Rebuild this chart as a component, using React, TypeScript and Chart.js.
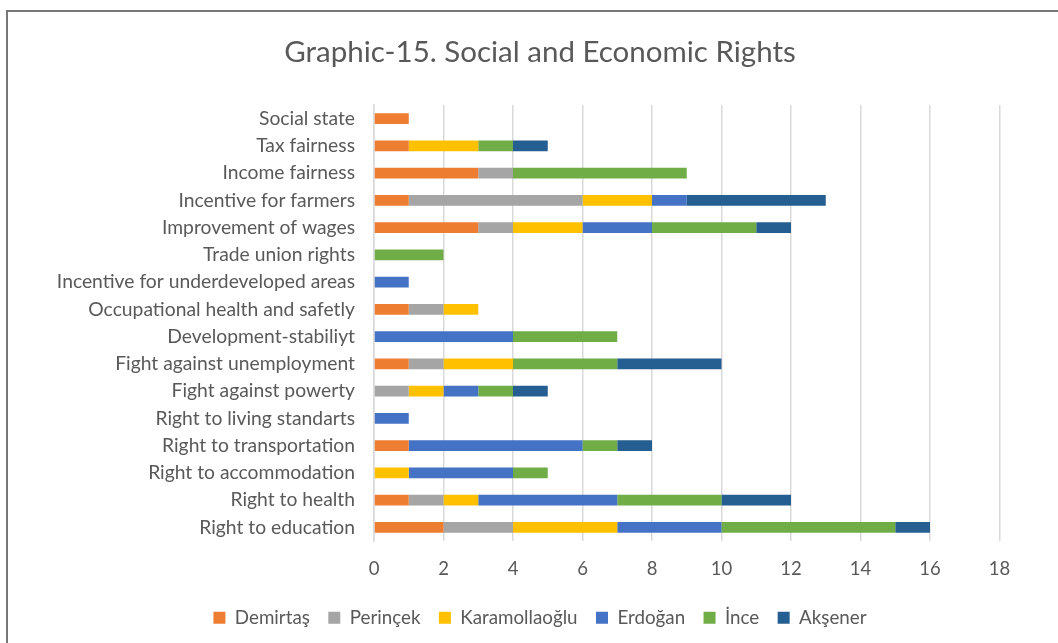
import { useEffect, useRef } from "react";
import { Chart, registerables } from "chart.js";

Chart.register(...registerables);

const categories = [
  "Social state",
  "Tax fairness",
  "Income fairness",
  "Incentive for farmers",
  "Improvement of wages",
  "Trade union rights",
  "Incentive for underdeveloped areas",
  "Occupational health and safetly",
  "Development-stabiliyt",
  "Fight against unemployment",
  "Fight against powerty",
  "Right to living standarts",
  "Right to transportation",
  "Right to accommodation",
  "Right to health",
  "Right to education",
];

const demirtas = [1, 1, 3, 1, 3, 0, 0, 1, 0, 1, 0, 0, 1, 0, 1, 2];
const perincek = [0, 0, 1, 5, 1, 0, 0, 1, 0, 1, 1, 0, 0, 0, 1, 2];
const karamollaoglu = [0, 2, 0, 2, 2, 0, 0, 1, 0, 2, 1, 0, 0, 1, 1, 3];
const erdogan = [0, 0, 0, 1, 2, 0, 1, 0, 4, 0, 1, 1, 5, 3, 4, 3];
const ince = [0, 1, 5, 0, 3, 2, 0, 0, 3, 3, 1, 0, 1, 1, 3, 5];
const aksener = [0, 1, 0, 4, 1, 0, 0, 0, 0, 3, 1, 0, 1, 0, 2, 1];

const seriesNames = ["Demirtaş", "Perinçek", "Karamollaoğlu", "Erdoğan", "İnce", "Akşener"];
const seriesColors = ["#ED7D31", "#A5A5A5", "#FFC000", "#4472C4", "#70AD47", "#255E91"];

const xMin = 0;
const xMax = 18;
const xStep = 2;

const FONT = "Lato";
const TEXT = "#595959";
const GRID = "#D9D9D9";

const CANVAS_W = 1080;
const CANVAS_H = 643;

export default function App() {
  const ref = useRef<HTMLCanvasElement>(null);

  useEffect(() => {
    if (!ref.current) return;
    const values = [demirtas, perincek, karamollaoglu, erdogan, ince, aksener];
    const chart = new Chart(ref.current, {
      type: "bar",
      data: {
        labels: categories,
        datasets: values.map((v, i) => ({
          label: seriesNames[i],
          data: v,
          backgroundColor: seriesColors[i],
          borderWidth: 0,
          categoryPercentage: 1,
          barPercentage: 0.4,
        })),
      },
      options: {
        indexAxis: "y",
        responsive: false,
        animation: false,
        devicePixelRatio: 1,
        layout: { padding: { left: 0, right: 0, top: 0, bottom: 5.8 } },
        scales: {
          x: {
            stacked: true,
            min: xMin,
            max: xMax,
            ticks: { stepSize: xStep, color: TEXT, font: { family: FONT, size: 18.5 }, padding: 17 },
            grid: { color: GRID, lineWidth: 1.5, drawTicks: false },
            border: { display: false },
            afterFit: (scale: any) => {
              scale.height = 49;
            },
          },
          y: {
            stacked: true,
            ticks: { color: TEXT, font: { family: FONT, size: 19.3 }, padding: 19, autoSkip: false },
            grid: { display: false, drawTicks: false },
            border: { display: true, color: GRID, width: 1.5 },
            afterFit: (scale: any) => {
              scale.width = 374;
            },
          },
          yRight: {
            type: "category",
            position: "right",
            display: true,
            ticks: { display: false },
            grid: { display: false, drawTicks: false },
            border: { display: false },
            afterFit: (scale: any) => {
              scale.width = 80.5;
            },
          },
        },
        plugins: {
          title: {
            display: true,
            text: "Graphic-15. Social and Economic Rights",
            color: TEXT,
            font: { family: FONT, size: 29.5, weight: "normal" },
            padding: { top: 34.3, bottom: 35.3 },
          },
          legend: {
            display: true,
            position: "bottom",
            labels: {
              color: TEXT,
              font: { family: FONT, size: 18.8 },
              boxWidth: 12,
              boxHeight: 12,
              padding: 18.4,
            },
          },
          tooltip: { enabled: false },
        },
      },
    });
    return () => chart.destroy();
  }, []);

  return (
    <div
      style={{
        position: "fixed",
        left: 0,
        top: 0,
        width: 1058,
        height: 643,
        background: "#ffffff",
        overflow: "hidden",
      }}
    >
      <canvas
        ref={ref}
        width={CANVAS_W}
        height={CANVAS_H}
        style={{ position: "absolute", left: 0, top: 0 }}
      />
      <div
        style={{
          position: "absolute",
          left: 6,
          top: 10,
          width: 1100,
          height: 700,
          border: "2px solid #767676",
          boxSizing: "border-box",
          pointerEvents: "none",
        }}
      />
    </div>
  );
}
